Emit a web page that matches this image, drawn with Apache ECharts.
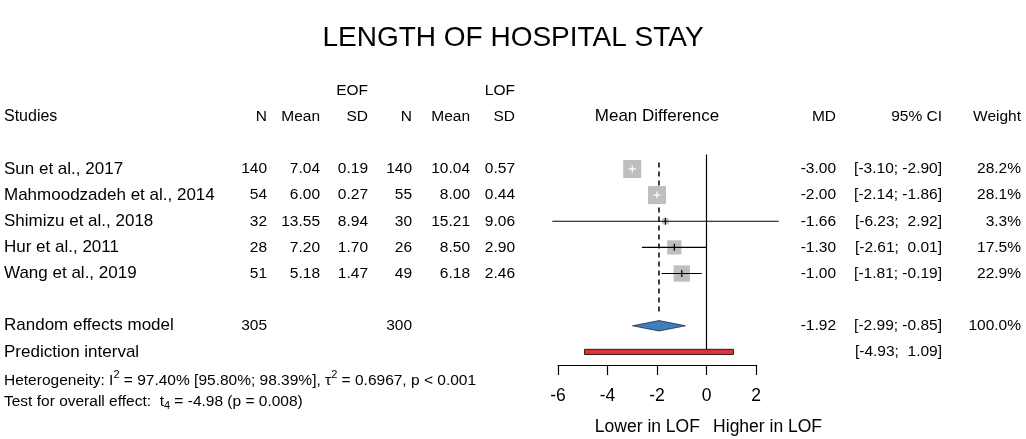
<!DOCTYPE html>
<html>
<head>
<meta charset="UTF-8">
<title>Length of hospital stay</title>
<script src="https://cdn.jsdelivr.net/npm/echarts@6/dist/echarts.min.js"></script>
<style>
  html, body { margin: 0; background: #fff; }
  #main { width: 1026px; height: 439px; }
</style>
</head>
<body>
<div id="main"></div>
<script>
  // study data (mean difference EOF vs LOF)
  var studies = ['Sun et al., 2017', 'Mahmoodzadeh et al., 2014', 'Shimizu et al., 2018', 'Hur et al., 2011', 'Wang et al., 2019'];
  var nE = [140, 54, 32, 28, 51];
  var meanE = [7.04, 6.00, 13.55, 7.20, 5.18];
  var sdE = [0.19, 0.27, 8.94, 1.70, 1.47];
  var nL = [140, 55, 30, 26, 49];
  var meanL = [10.04, 8.00, 15.21, 8.50, 6.18];
  var sdL = [0.57, 0.44, 9.06, 2.90, 2.46];
  var md = [-3.00, -2.00, -1.66, -1.30, -1.00];
  var ciLo = [-3.10, -2.14, -6.23, -2.61, -1.81];
  var ciHi = [-2.90, -1.86, 2.92, 0.01, -0.19];
  var weight = [28.2, 28.1, 3.3, 17.5, 22.9];

  // random effects model + prediction interval
  var poolN = [305, 300];
  var poolMD = -1.92;
  var poolCI = [-2.99, -0.85];
  var predCI = [-4.93, 1.09];

  var xTicks = [-6, -4, -2, 0, 2];

  // row positions (0 = first study, going down)
  var studyRows = [0, 1, 2, 3, 4];
  var reRow = 6;
  var piRow = 7;

  var FONT = '"Liberation Sans", Arial, Helvetica, sans-serif';
  var FS = 15.5;

  function f2(v) { return v.toFixed(2); }
  function ciText(lo, hi) {
    var h = f2(hi);
    if (h.charAt(0) !== '-') h = ' ' + h;
    return '[' + f2(lo) + '; ' + h + ']';
  }

  // a column of text placed at a fixed x, rows through the y scale
  function textCol(x, align, rows, labels, size, extra) {
    return {
      type: 'custom',
      silent: true,
      clip: false,
      z: 10,
      data: rows.map(function (r) { return [0, r]; }),
      renderItem: function (params, api) {
        var y = api.coord([0, api.value(1)])[1];
        var style = {
          text: labels[params.dataIndex],
          align: align,
          verticalAlign: 'middle',
          fontSize: size,
          fontFamily: FONT,
          fill: '#000'
        };
        if (extra) for (var k in extra) style[k] = extra[k];
        return { type: 'text', x: x, y: y, style: style };
      }
    };
  }

  var chart = echarts.init(document.getElementById('main'));

  var leftRows = studyRows.concat([reRow, piRow]);
  var series = [];

  // header
  series.push(textCol(368, 'right', [-3], ['EOF'], FS));
  series.push(textCol(515, 'right', [-3], ['LOF'], FS));
  series.push(textCol(4, 'left', [-2], ['Studies'], 16));
  var hdrX = [267, 320, 368, 412, 470, 515];
  var hdrT = ['N', 'Mean', 'SD', 'N', 'Mean', 'SD'];
  hdrX.forEach(function (x, i) { series.push(textCol(x, 'right', [-2], [hdrT[i]], FS)); });
  series.push(textCol(657, 'center', [-2], ['Mean Difference'], 17));
  series.push(textCol(836, 'right', [-2], ['MD'], FS));
  series.push(textCol(942, 'right', [-2], ['95% CI'], FS));
  series.push(textCol(1021, 'right', [-2], ['Weight'], FS));

  // study columns
  series.push(textCol(4, 'left', leftRows, studies.concat(['Random effects model', 'Prediction interval']), 17));
  series.push(textCol(267, 'right', studyRows.concat([reRow]), nE.map(String).concat([String(poolN[0])]), FS));
  series.push(textCol(320, 'right', studyRows, meanE.map(f2), FS));
  series.push(textCol(368, 'right', studyRows, sdE.map(f2), FS));
  series.push(textCol(412, 'right', studyRows.concat([reRow]), nL.map(String).concat([String(poolN[1])]), FS));
  series.push(textCol(470, 'right', studyRows, meanL.map(f2), FS));
  series.push(textCol(515, 'right', studyRows, sdL.map(f2), FS));
  series.push(textCol(836, 'right', studyRows.concat([reRow]), md.map(f2).concat([f2(poolMD)]), FS));
  series.push(textCol(942, 'right', studyRows.concat([reRow, piRow]),
    md.map(function (v, i) { return ciText(ciLo[i], ciHi[i]); })
      .concat([ciText(poolCI[0], poolCI[1]), ciText(predCI[0], predCI[1])]), FS, { whiteSpace: 'pre' }));
  series.push(textCol(1021, 'right', studyRows.concat([reRow]),
    weight.map(function (w) { return w.toFixed(1) + '%'; }).concat(['100.0%']), FS));

  // heterogeneity / overall test
  series.push(textCol(4, 'left', [8.1],
    ['Heterogeneity: I{sup|2} = 97.40% [95.80%; 98.39%], \u03c4{sup|2} = 0.6967, p < 0.001'], 15.5,
    { rich: { sup: { fontSize: 11, fontFamily: FONT, verticalAlign: 'top', padding: [0, 0, 11, 0] } } }));
  series.push(textCol(4, 'left', [8.9],
    ['Test for overall effect:  t{sub|4} = -4.98 (p = 0.008)'], 15.5,
    { rich: { sub: { fontSize: 11, fontFamily: FONT, padding: [8, 0, 0, 0] } } }));

  // reference line at 0
  series.push({
    type: 'line', silent: true, symbol: 'none', z: 2,
    data: [[0, -0.55], [0, 7.1]],
    lineStyle: { color: '#000', width: 1.2 }
  });
  // pooled estimate dashed line
  series.push({
    type: 'line', silent: true, symbol: 'none', z: 2,
    data: [[poolMD, -0.25], [poolMD, 5.5]],
    lineStyle: { color: '#000', width: 1.5, type: [5, 4] }
  });

  // study squares + CI
  series.push({
    type: 'custom', silent: true, clip: false, z: 4,
    data: md.map(function (v, i) { return [v, studyRows[i], ciLo[i], ciHi[i], weight[i]]; }),
    renderItem: function (params, api) {
      var c = api.coord([api.value(0), api.value(1)]);
      var lo = api.coord([api.value(2), api.value(1)])[0];
      var hi = api.coord([api.value(3), api.value(1)])[0];
      var s = Math.sqrt(api.value(4)) * 3.4;
      var inside = lo >= c[0] - s / 2 && hi <= c[0] + s / 2;
      var col = inside ? '#fff' : '#000';
      if (inside) { lo = Math.min(lo, c[0] - 3.5); hi = Math.max(hi, c[0] + 3.5); }
      return {
        type: 'group',
        children: [
          { type: 'rect', shape: { x: c[0] - s / 2, y: c[1] - s / 2, width: s, height: s }, style: { fill: '#bebebe' } },
          { type: 'line', shape: { x1: lo, y1: c[1], x2: hi, y2: c[1] }, style: { stroke: col, lineWidth: 1.2 } },
          { type: 'line', shape: { x1: c[0], y1: c[1] - 3.5, x2: c[0], y2: c[1] + 3.5 }, style: { stroke: col, lineWidth: 1.2 } }
        ]
      };
    }
  });

  // diamond for random effects model
  series.push({
    type: 'custom', silent: true, clip: false, z: 4,
    data: [[poolMD, reRow, poolCI[0], poolCI[1]]],
    renderItem: function (params, api) {
      var c = api.coord([api.value(0), api.value(1)]);
      var lo = api.coord([api.value(2), api.value(1)])[0];
      var hi = api.coord([api.value(3), api.value(1)])[0];
      var h = 5.2;
      return {
        type: 'polygon',
        shape: { points: [[lo, c[1]], [c[0], c[1] - h], [hi, c[1]], [c[0], c[1] + h]] },
        style: { fill: '#3f7dbd', stroke: '#1d2f44', lineWidth: 0.8 }
      };
    }
  });

  // prediction interval bar
  series.push({
    type: 'custom', silent: true, clip: false, z: 4,
    data: [[predCI[0], piRow, predCI[1]]],
    renderItem: function (params, api) {
      var a = api.coord([api.value(0), api.value(1)]);
      var b = api.coord([api.value(2), api.value(1)]);
      return {
        type: 'rect',
        shape: { x: a[0], y: a[1] - 2.6, width: b[0] - a[0], height: 5.2 },
        style: { fill: '#d7353a', stroke: '#2a0a0a', lineWidth: 0.9 }
      };
    }
  });

  // axis side labels
  series.push({
    type: 'custom', silent: true, clip: false, z: 10,
    data: [[-8 / 30, 9.87, 0], [8 / 30, 9.87, 1]],
    renderItem: function (params, api) {
      var p = api.coord([api.value(0), api.value(1)]);
      var right = api.value(2) === 1;
      return {
        type: 'text', x: p[0], y: p[1],
        style: {
          text: right ? 'Higher in LOF' : 'Lower in LOF',
          align: right ? 'left' : 'right', verticalAlign: 'middle',
          fontSize: 17.5, fontFamily: FONT, fill: '#000'
        }
      };
    }
  });

  var option = {
    animation: false,
    backgroundColor: '#fff',
    title: {
      text: 'LENGTH OF HOSPITAL STAY',
      left: 'center', top: 19,
      textStyle: { fontSize: 28, fontWeight: 'normal', fontFamily: FONT, color: '#000' }
    },
    grid: { left: 558, right: 270, top: 64.4, bottom: 74 },
    xAxis: {
      type: 'value',
      min: xTicks[0], max: xTicks[xTicks.length - 1], interval: 2,
      splitLine: { show: false },
      axisLine: { show: true, onZero: false, lineStyle: { color: '#000', width: 1.2 } },
      axisTick: { show: true, length: 10, lineStyle: { color: '#000', width: 1.2 } },
      axisLabel: { fontSize: 17.5, fontFamily: FONT, color: '#000', margin: 22 }
    },
    yAxis: {
      type: 'value', inverse: true, min: -4, max: 7.5,
      show: false
    },
    series: series
  };

  chart.setOption(option);
</script>
</body>
</html>
